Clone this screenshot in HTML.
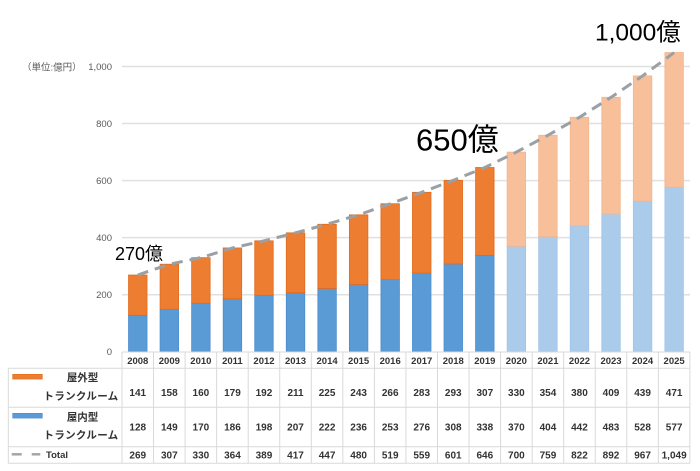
<!DOCTYPE html>
<html><head><meta charset="utf-8">
<style>
html,body{margin:0;padding:0;background:#fff;}
svg{display:block;}
.t{font-family:"Liberation Sans","Noto Sans CJK JP",sans-serif;}
</style></head>
<body>
<svg width="700" height="471" viewBox="0 0 700 471" xmlns="http://www.w3.org/2000/svg">
<rect width="700" height="471" fill="#fff"/>
<!-- gridlines -->
<g stroke="#e0e0e0" stroke-width="1.5">
<line x1="122" y1="294.74" x2="690" y2="294.74"/>
<line x1="122" y1="237.68" x2="690" y2="237.68"/>
<line x1="122" y1="180.62" x2="690" y2="180.62"/>
<line x1="122" y1="123.56" x2="690" y2="123.56"/>
<line x1="122" y1="66.5" x2="690" y2="66.5"/>
</g>
<!-- y tick labels -->
<g class="t" font-size="9.5" fill="#595959" text-anchor="end">
<text x="112" y="355">0</text>
<text x="112" y="298">200</text>
<text x="112" y="241">400</text>
<text x="112" y="184">600</text>
<text x="112" y="127">800</text>
<text x="112" y="70">1,000</text>
</g>
<text class="t" x="22" y="70.5" font-size="9.5" fill="#595959">（単位:億円）</text>

<!-- blue bars (solid) -->
<g fill="#5b9bd5" stroke="#4a8cd0" stroke-width="0.8">
<rect x="128.53" y="315.28" width="18.5" height="36.52"/>
<rect x="160.08" y="309.29" width="18.5" height="42.51"/>
<rect x="191.63" y="303.30" width="18.5" height="48.50"/>
<rect x="223.18" y="298.73" width="18.5" height="53.07"/>
<rect x="254.73" y="295.31" width="18.5" height="56.49"/>
<rect x="286.28" y="292.74" width="18.5" height="59.06"/>
<rect x="317.83" y="288.46" width="18.5" height="63.34"/>
<rect x="349.38" y="284.47" width="18.5" height="67.33"/>
<rect x="380.93" y="279.62" width="18.5" height="72.18"/>
<rect x="412.48" y="273.06" width="18.5" height="78.74"/>
<rect x="444.03" y="263.93" width="18.5" height="87.87"/>
<rect x="475.58" y="255.37" width="18.5" height="96.43"/>
</g>
<!-- orange bars (solid) -->
<g fill="#ed7d31" stroke="#e36a1c" stroke-width="0.8">
<rect x="128.53" y="275.05" width="18.5" height="40.23"/>
<rect x="160.08" y="264.21" width="18.5" height="45.08"/>
<rect x="191.63" y="257.65" width="18.5" height="45.65"/>
<rect x="223.18" y="247.95" width="18.5" height="50.78"/>
<rect x="254.73" y="240.82" width="18.5" height="54.49"/>
<rect x="286.28" y="232.83" width="18.5" height="59.91"/>
<rect x="317.83" y="224.27" width="18.5" height="64.19"/>
<rect x="349.38" y="214.86" width="18.5" height="69.61"/>
<rect x="380.93" y="203.73" width="18.5" height="75.89"/>
<rect x="412.48" y="192.32" width="18.5" height="80.74"/>
<rect x="444.03" y="180.33" width="18.5" height="83.60"/>
<rect x="475.58" y="167.50" width="18.5" height="87.87"/>
</g>
<!-- light blue bars -->
<g fill="#abcbeb" stroke="#a0c4ea" stroke-width="0.8">
<rect x="507.13" y="246.24" width="18.5" height="105.56"/>
<rect x="538.68" y="236.54" width="18.5" height="115.26"/>
<rect x="570.23" y="225.70" width="18.5" height="126.10"/>
<rect x="601.78" y="214.00" width="18.5" height="137.80"/>
<rect x="633.33" y="201.16" width="18.5" height="150.64"/>
<rect x="664.88" y="187.18" width="18.5" height="164.62"/>
</g>
<!-- light orange bars -->
<g fill="#f7c09a" stroke="#f4b58c" stroke-width="0.8">
<rect x="507.13" y="152.09" width="18.5" height="94.15"/>
<rect x="538.68" y="135.26" width="18.5" height="101.28"/>
<rect x="570.23" y="117.28" width="18.5" height="108.42"/>
<rect x="601.78" y="97.31" width="18.5" height="116.69"/>
<rect x="633.33" y="75.91" width="18.5" height="125.25"/>
<rect x="664.88" y="52.52" width="18.5" height="134.66"/>
</g>

<!-- total line -->
<polyline fill="none" stroke="#9aa0a6" stroke-width="3" stroke-dasharray="11 7"
points="137.78,275.05 169.33,264.21 200.88,257.65 232.43,247.95 263.98,240.82 295.53,232.83 327.08,224.27 358.63,214.86 390.18,203.73 421.73,192.32 453.28,180.33 484.83,167.50 516.38,152.09 547.93,135.26 579.48,117.28 611.03,97.31 642.58,75.91 674.13,52.52"/>

<!-- annotations -->
<text class="t" x="115" y="260" font-size="18" fill="#000">270億</text>
<text class="t" x="416" y="150.5" font-size="31" fill="#000">650億</text>
<text class="t" x="595" y="40.5" font-size="24.5" fill="#000">1,000億</text>

<!-- table grid -->
<g stroke="#d9d9d9" stroke-width="1">
<line x1="122" y1="352" x2="690" y2="352"/>
<line x1="8.3" y1="368.3" x2="690" y2="368.3"/>
<line x1="8.3" y1="407.3" x2="690" y2="407.3"/>
<line x1="8.3" y1="446.7" x2="690" y2="446.7"/>
<line x1="8.3" y1="463.3" x2="690" y2="463.3"/>
<line x1="8.3" y1="368.3" x2="8.3" y2="463.3"/>
<line x1="122" y1="352" x2="122" y2="463.3"/>
<line x1="153.55" y1="352" x2="153.55" y2="463.3"/>
<line x1="185.1" y1="352" x2="185.1" y2="463.3"/>
<line x1="216.65" y1="352" x2="216.65" y2="463.3"/>
<line x1="248.2" y1="352" x2="248.2" y2="463.3"/>
<line x1="279.75" y1="352" x2="279.75" y2="463.3"/>
<line x1="311.3" y1="352" x2="311.3" y2="463.3"/>
<line x1="342.85" y1="352" x2="342.85" y2="463.3"/>
<line x1="374.4" y1="352" x2="374.4" y2="463.3"/>
<line x1="405.95" y1="352" x2="405.95" y2="463.3"/>
<line x1="437.5" y1="352" x2="437.5" y2="463.3"/>
<line x1="469.05" y1="352" x2="469.05" y2="463.3"/>
<line x1="500.6" y1="352" x2="500.6" y2="463.3"/>
<line x1="532.15" y1="352" x2="532.15" y2="463.3"/>
<line x1="563.7" y1="352" x2="563.7" y2="463.3"/>
<line x1="595.25" y1="352" x2="595.25" y2="463.3"/>
<line x1="626.8" y1="352" x2="626.8" y2="463.3"/>
<line x1="658.35" y1="352" x2="658.35" y2="463.3"/>
<line x1="689.9" y1="352" x2="689.9" y2="463.3"/>
</g>

<!-- legend cells -->
<rect x="12.7" y="374.3" width="29.6" height="4.8" fill="#ed7d31" stroke="#e36a1c" stroke-width="0.6"/>
<rect x="12.7" y="413.3" width="29.6" height="4.8" fill="#5b9bd5" stroke="#4a8cd0" stroke-width="0.6"/>
<g stroke="#a6a6a6" stroke-width="2.5">
<line x1="11.7" y1="454.3" x2="21.7" y2="454.3"/>
<line x1="31.7" y1="454.3" x2="40.3" y2="454.3"/>
</g>
<g class="t" font-size="10.5" fill="#333" font-weight="600">
<text x="82.5" y="381" text-anchor="middle">屋外型</text>
<text x="118.5" y="399.5" text-anchor="end" letter-spacing="0.3">トランクルーム</text>
<text x="82.5" y="420.5" text-anchor="middle">屋内型</text>
<text x="118.5" y="438.3" text-anchor="end" letter-spacing="0.3">トランクルーム</text>
</g>
<text class="t" x="46" y="457.8" font-size="9.5" font-weight="bold" fill="#333">Total</text>

<!-- header years -->
<g class="t" font-size="9.5" font-weight="bold" fill="#333" text-anchor="middle">
<text x="137.78" y="363.8">2008</text>
<text x="169.33" y="363.8">2009</text>
<text x="200.88" y="363.8">2010</text>
<text x="232.43" y="363.8">2011</text>
<text x="263.98" y="363.8">2012</text>
<text x="295.53" y="363.8">2013</text>
<text x="327.08" y="363.8">2014</text>
<text x="358.63" y="363.8">2015</text>
<text x="390.18" y="363.8">2016</text>
<text x="421.73" y="363.8">2017</text>
<text x="453.28" y="363.8">2018</text>
<text x="484.83" y="363.8">2019</text>
<text x="516.38" y="363.8">2020</text>
<text x="547.93" y="363.8">2021</text>
<text x="579.48" y="363.8">2022</text>
<text x="611.03" y="363.8">2023</text>
<text x="642.58" y="363.8">2024</text>
<text x="674.13" y="363.8">2025</text>
</g>
<!-- row outdoor -->
<g class="t" font-size="10" font-weight="bold" fill="#333" text-anchor="middle">
<text x="137.78" y="396.2">141</text>
<text x="169.33" y="396.2">158</text>
<text x="200.88" y="396.2">160</text>
<text x="232.43" y="396.2">179</text>
<text x="263.98" y="396.2">192</text>
<text x="295.53" y="396.2">211</text>
<text x="327.08" y="396.2">225</text>
<text x="358.63" y="396.2">243</text>
<text x="390.18" y="396.2">266</text>
<text x="421.73" y="396.2">283</text>
<text x="453.28" y="396.2">293</text>
<text x="484.83" y="396.2">307</text>
<text x="516.38" y="396.2">330</text>
<text x="547.93" y="396.2">354</text>
<text x="579.48" y="396.2">380</text>
<text x="611.03" y="396.2">409</text>
<text x="642.58" y="396.2">439</text>
<text x="674.13" y="396.2">471</text>
</g>
<!-- row indoor -->
<g class="t" font-size="10" font-weight="bold" fill="#333" text-anchor="middle">
<text x="137.78" y="430.3">128</text>
<text x="169.33" y="430.3">149</text>
<text x="200.88" y="430.3">170</text>
<text x="232.43" y="430.3">186</text>
<text x="263.98" y="430.3">198</text>
<text x="295.53" y="430.3">207</text>
<text x="327.08" y="430.3">222</text>
<text x="358.63" y="430.3">236</text>
<text x="390.18" y="430.3">253</text>
<text x="421.73" y="430.3">276</text>
<text x="453.28" y="430.3">308</text>
<text x="484.83" y="430.3">338</text>
<text x="516.38" y="430.3">370</text>
<text x="547.93" y="430.3">404</text>
<text x="579.48" y="430.3">442</text>
<text x="611.03" y="430.3">483</text>
<text x="642.58" y="430.3">528</text>
<text x="674.13" y="430.3">577</text>
</g>
<!-- row total -->
<g class="t" font-size="10" font-weight="bold" fill="#333" text-anchor="middle">
<text x="137.78" y="458.6">269</text>
<text x="169.33" y="458.6">307</text>
<text x="200.88" y="458.6">330</text>
<text x="232.43" y="458.6">364</text>
<text x="263.98" y="458.6">389</text>
<text x="295.53" y="458.6">417</text>
<text x="327.08" y="458.6">447</text>
<text x="358.63" y="458.6">480</text>
<text x="390.18" y="458.6">519</text>
<text x="421.73" y="458.6">559</text>
<text x="453.28" y="458.6">601</text>
<text x="484.83" y="458.6">646</text>
<text x="516.38" y="458.6">700</text>
<text x="547.93" y="458.6">759</text>
<text x="579.48" y="458.6">822</text>
<text x="611.03" y="458.6">892</text>
<text x="642.58" y="458.6">967</text>
<text x="674.13" y="458.6">1,049</text>
</g>
</svg>
</body></html>
